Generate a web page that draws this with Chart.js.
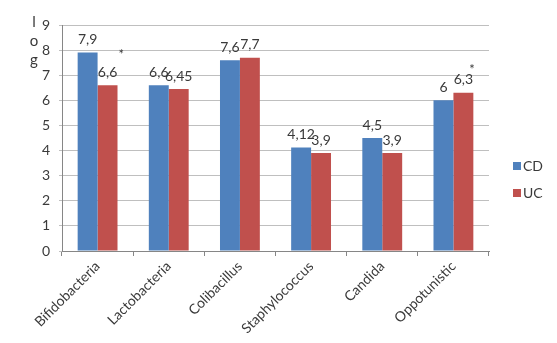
<!DOCTYPE html>
<html>
<head>
<meta charset="utf-8">
<script src="https://cdn.jsdelivr.net/npm/chart.js@4"></script>
<style>
  html, body { margin: 0; padding: 0; background: #fff; }
  #chart { display: block; }
</style>
</head>
<body>
<canvas id="chart" width="557" height="343"></canvas>
<script>
// values (log scale)
const categories = ['Bifidobacteria', 'Lactobacteria', 'Colibacillus', 'Staphylococcus', 'Candida', 'Oppotunistic'];
const cdValues = [7.9, 6.6, 7.6, 4.12, 4.5, 6];
const ucValues = [6.6, 6.45, 7.7, 3.9, 3.9, 6.3];
const ucStars = [true, false, false, false, false, true];
const yTicks = [0, 1, 2, 3, 4, 5, 6, 7, 8, 9];

const FONT = 'Lato, "Open Sans", sans-serif';
const TEXT = '#3a3a3a';

const fmt = v => String(v).replace('.', ',');

// value labels, stars, "log" caption and legend
const extras = {
  id: 'extras',
  afterDatasetsDraw(chart) {
    const ctx = chart.ctx;
    ctx.save();
    ctx.fillStyle = TEXT;
    ctx.font = '14px ' + FONT;
    ctx.textAlign = 'center';
    ctx.textBaseline = 'bottom';
    chart.data.datasets.forEach((ds, di) => {
      chart.getDatasetMeta(di).data.forEach((bar, i) => {
        const txt = fmt(ds.data[i]);
        ctx.fillText(txt, bar.x, bar.y - 6);
        if (di === 1 && ucStars[i]) {
          const w = ctx.measureText(txt).width;
          ctx.font = '13px ' + FONT;
          ctx.fillText('*', bar.x + w / 2 + (i === 0 ? 4 : -1), bar.y - (i === 0 ? 24 : 16));
          ctx.font = '14px ' + FONT;
        }
      });
    });

    // vertical "log" caption
    ctx.font = '15px ' + FONT;
    ctx.textBaseline = 'middle';
    ['l', 'o', 'g'].forEach((ch, k) => ctx.fillText(ch, 34, 22 + k * 19));

    // legend
    ctx.font = '14px ' + FONT;
    ctx.textAlign = 'left';
    chart.data.datasets.forEach((ds, di) => {
      const y = 166 + di * 27;
      ctx.fillStyle = ds.backgroundColor;
      ctx.fillRect(513, y - 4, 8, 8);
      ctx.fillStyle = TEXT;
      ctx.fillText(ds.label, 523, y);
    });
    ctx.restore();
  }
};

new Chart(document.getElementById('chart'), {
  type: 'bar',
  data: {
    labels: categories,
    datasets: [
      { label: 'CD', data: cdValues, backgroundColor: '#4F81BD' },
      { label: 'UC', data: ucValues, backgroundColor: '#C0504D' }
    ]
  },
  options: {
    responsive: false,
    animation: false,
    layout: { padding: { top: 25, right: 68, left: 0, bottom: 0 } },
    categoryPercentage: 0.56,
    barPercentage: 1,
    plugins: {
      legend: { display: false },
      tooltip: { enabled: false }
    },
    scales: {
      x: {
        grid: { drawOnChartArea: false, drawTicks: true, tickLength: 5, color: '#868686' },
        border: { color: '#868686' },
        ticks: {
          color: TEXT,
          font: { family: FONT, size: 14 },
          minRotation: 45,
          maxRotation: 45,
          padding: 2
        },
        afterFit(scale) { scale.height = 92; }
      },
      y: {
        min: 0,
        max: 9,
        afterBuildTicks(scale) { scale.ticks = yTicks.map(v => ({ value: v })); },
        grid: { color: '#bfbfbf', tickLength: 3 },
        border: { color: '#868686' },
        ticks: {
          color: TEXT,
          font: { family: FONT, size: 14 },
          padding: 9
        },
        afterFit(scale) { scale.width = 62; }
      }
    }
  },
  plugins: [extras]
});
</script>
</body>
</html>
